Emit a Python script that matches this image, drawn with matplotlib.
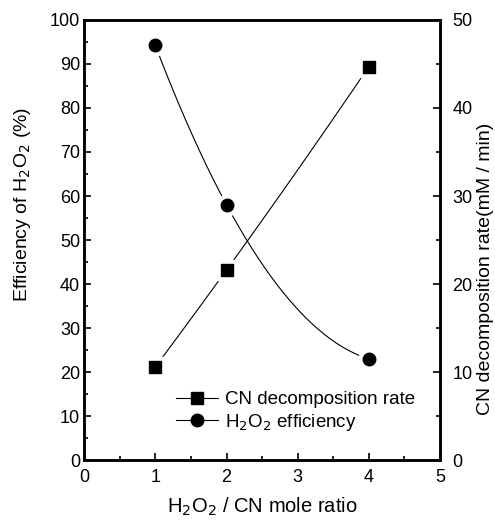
import matplotlib.pyplot as plt
import numpy as np
from matplotlib.ticker import MultipleLocator
from matplotlib.lines import Line2D

plt.rcParams['font.family'] = ['Liberation Sans', 'DejaVu Sans']

# H2O2 / CN mole ratio
ratio = [1, 2, 4]
# efficiency of H2O2 (%), left axis
efficiency = [94.2, 58.0, 23.0]
# CN decomposition rate (mM/min), right axis
cn_rate = [10.6, 21.6, 44.7]


def smooth(x, y):
    # quadratic through the three points, just for the connecting curve
    coef = np.polyfit(x, y, 2)
    xs = np.linspace(min(x), max(x), 200)
    return xs, np.polyval(coef, xs)


fig = plt.figure(figsize=(4.95, 5.23), dpi=100)
ax = fig.add_axes([0.170, 0.120, 0.719, 0.842])
ax2 = ax.twinx()

xs, ys = smooth(ratio, efficiency)
ax.plot(xs, ys, color='black', lw=0.8, zorder=2)
ax.plot(ratio, efficiency, 'o', ms=15, color='white', zorder=3)
ax.plot(ratio, efficiency, 'o', ms=9, color='black', zorder=4)

xs, ys = smooth(ratio, cn_rate)
ax2.plot(xs, ys, color='black', lw=0.8, zorder=2)
ax2.plot(ratio, cn_rate, 's', ms=14, color='white', zorder=3)
ax2.plot(ratio, cn_rate, 's', ms=9, color='black', zorder=4)

ax.set_xlim(0, 5)
ax.set_ylim(0, 100)
ax2.set_ylim(0, 50)

ax.xaxis.set_major_locator(MultipleLocator(1))
ax.xaxis.set_minor_locator(MultipleLocator(0.5))
ax.yaxis.set_major_locator(MultipleLocator(10))
ax.yaxis.set_minor_locator(MultipleLocator(5))
ax2.yaxis.set_major_locator(MultipleLocator(10))
ax2.yaxis.set_minor_locator(MultipleLocator(5))

for a in (ax, ax2):
    a.tick_params(which='both', direction='in', labelsize=13, width=1.2)
    a.tick_params(which='major', length=5)
    a.tick_params(which='minor', length=3)
    for s in a.spines.values():
        s.set_linewidth(1.8)
ax.tick_params(top=False, right=False, which='both')
ax.tick_params(axis='y', pad=3)
ax.tick_params(axis='x', pad=6)
ax2.tick_params(axis='y', pad=9)

ax.set_xlabel('H$_2$O$_2$ / CN mole ratio', fontsize=14.5, labelpad=7)
ax.set_ylabel('Efficiency of H$_2$O$_2$ (%)', fontsize=14)
ax.yaxis.set_label_coords(-0.145, 0.58)
ax2.set_ylabel('CN decomposition rate(mM / min)', fontsize=14)
ax2.yaxis.set_label_coords(1.103, 0.435)

handles = [
    Line2D([], [], color='black', lw=0.8, marker='s', ms=9),
    Line2D([], [], color='black', lw=0.8, marker='o', ms=9),
]
ax2.legend(handles, ['CN decomposition rate', 'H$_2$O$_2$ efficiency'],
           loc='lower left', bbox_to_anchor=(0.238, 0.045), frameon=False,
           fontsize=13.5, handlelength=2.2, handletextpad=0.4,
           labelspacing=0.2, borderaxespad=0)

fig.savefig('out.png', dpi=100)
